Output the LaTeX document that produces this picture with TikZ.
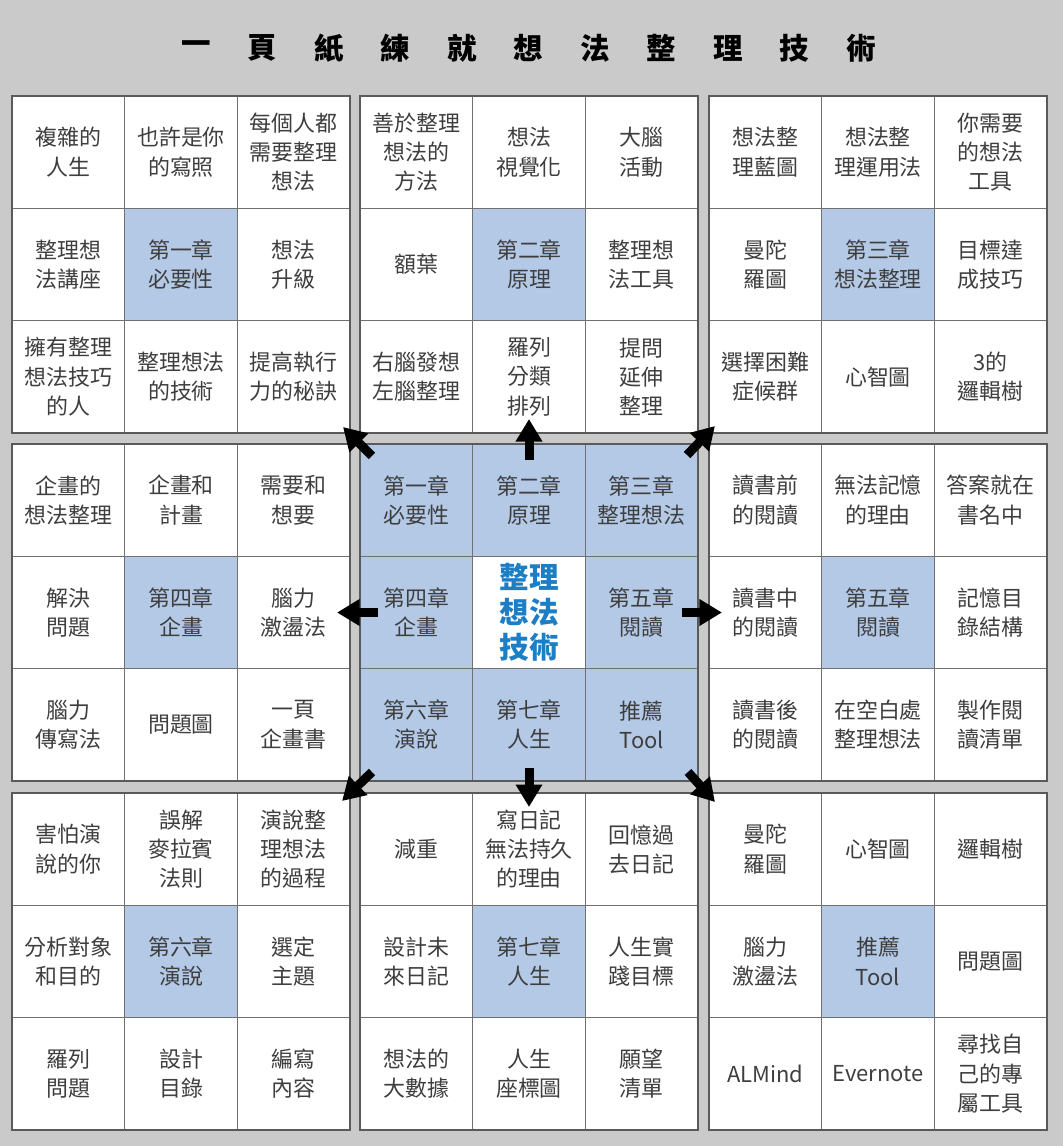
\documentclass[tikz,border=0pt]{standalone}
\usepackage{fontspec}
\usepackage{xcolor}
\usepackage{tikz}
\usetikzlibrary{calc,arrows.meta}
\newfontfamily\cjk{Noto Sans CJK TC}
\definecolor{pgrey}{RGB}{201,202,201}
\definecolor{cblue}{RGB}{180,201,230}
\definecolor{tblue}{RGB}{28,126,196}
\definecolor{tgrey}{RGB}{62,62,62}
\definecolor{lgrey}{RGB}{112,112,112}
\tikzset{
    idea/.style={
        rectangle,
        draw=lgrey, line width=0.6pt,
        fill=white,
        minimum width=2.817cm,
        minimum height=2.808cm,
        inner sep=0pt, outer sep=0pt,
        align=center,
        text=tgrey,
        font={\cjk\fontsize{15.6pt}{20.8pt}\selectfont}
    },
    chapter/.style={idea, fill=cblue},
    hub/.style={idea, text=tblue, font={\cjk\bfseries\fontsize{21pt}{25pt}\selectfont}},
    titlechar/.style={font={\cjk\bfseries\fontsize{21pt}{25pt}\selectfont}, text=black, inner sep=0pt},
    block/.style={draw=lgrey!80!black, line width=1pt},
    bigarrow/.style={-{Triangle[length=16pt,width=18pt]}, line width=6.4pt, black},
}

\begin{document}
\begin{tikzpicture}[x=0.025cm, y=-0.025cm]
    \fill[pgrey] (0,0) rectangle (1063,1146);
    \useasboundingbox (0,0) rectangle (1063,1146);

    % title
    \foreach \ch [count=\k from 0] in {一,頁,紙,練,就,想,法,整,理,技,術}
        \node[titlechar] (t-\k) at ({196+\k*66.5},48) {\ch};

    % chapter 1
    \foreach \s/\t [count=\i from 0] in {
        idea/{複雜的\\人生}, idea/{也許是你\\的寫照}, idea/{每個人都\\需要整理\\想法},
        idea/{整理想\\法講座}, chapter/{第一章\\必要性}, idea/{想法\\升級},
        idea/{擁有整理\\想法技巧\\的人}, idea/{整理想法\\的技術}, idea/{提高執行\\力的秘訣}}
        \node[\s] (tl-\i) at ({12+56.33+mod(\i,3)*112.67},{96+56.17+div(\i,3)*112.33}) {\t};
    \draw[block] (tl-0.north west) rectangle (tl-8.south east);

    % chapter 2
    \foreach \s/\t [count=\i from 0] in {
        idea/{善於整理\\想法的\\方法}, idea/{想法\\視覺化}, idea/{大腦\\活動},
        idea/{額葉}, chapter/{第二章\\原理}, idea/{整理想\\法工具},
        idea/{右腦發想\\左腦整理}, idea/{羅列\\分類\\排列}, idea/{提問\\延伸\\整理}}
        \node[\s] (tc-\i) at ({360+56.33+mod(\i,3)*112.67},{96+56.17+div(\i,3)*112.33}) {\t};
    \draw[block] (tc-0.north west) rectangle (tc-8.south east);

    % chapter 3
    \foreach \s/\t [count=\i from 0] in {
        idea/{想法整\\理藍圖}, idea/{想法整\\理運用法}, idea/{你需要\\的想法\\工具},
        idea/{曼陀\\羅圖}, chapter/{第三章\\想法整理}, idea/{目標達\\成技巧},
        idea/{選擇困難\\症候群}, idea/{心智圖}, idea/{3的\\邏輯樹}}
        \node[\s] (tr-\i) at ({709+56.33+mod(\i,3)*112.67},{96+56.17+div(\i,3)*112.33}) {\t};
    \draw[block] (tr-0.north west) rectangle (tr-8.south east);

    % chapter 4
    \foreach \s/\t [count=\i from 0] in {
        idea/{企畫的\\想法整理}, idea/{企畫和\\計畫}, idea/{需要和\\想要},
        idea/{解決\\問題}, chapter/{第四章\\企畫}, idea/{腦力\\激盪法},
        idea/{腦力\\傳寫法}, idea/{問題圖}, idea/{一頁\\企畫書}}
        \node[\s] (ml-\i) at ({12+56.33+mod(\i,3)*112.67},{444+56.17+div(\i,3)*112.33}) {\t};
    \draw[block] (ml-0.north west) rectangle (ml-8.south east);

    % centre
    \foreach \s/\t [count=\i from 0] in {
        chapter/{第一章\\必要性}, chapter/{第二章\\原理}, chapter/{第三章\\整理想法},
        chapter/{第四章\\企畫}, hub/{整理\\想法\\技術}, chapter/{第五章\\閱讀},
        chapter/{第六章\\演說}, chapter/{第七章\\人生}, chapter/{推薦\\Tool}}
        \node[\s] (c-\i) at ({360+56.33+mod(\i,3)*112.67},{444+56.17+div(\i,3)*112.33}) {\t};
    \draw[block] (c-0.north west) rectangle (c-8.south east);

    % chapter 5
    \foreach \s/\t [count=\i from 0] in {
        idea/{讀書前\\的閱讀}, idea/{無法記憶\\的理由}, idea/{答案就在\\書名中},
        idea/{讀書中\\的閱讀}, chapter/{第五章\\閱讀}, idea/{記憶目\\錄結構},
        idea/{讀書後\\的閱讀}, idea/{在空白處\\整理想法}, idea/{製作閱\\讀清單}}
        \node[\s] (mr-\i) at ({709+56.33+mod(\i,3)*112.67},{444+56.17+div(\i,3)*112.33}) {\t};
    \draw[block] (mr-0.north west) rectangle (mr-8.south east);

    % chapter 6
    \foreach \s/\t [count=\i from 0] in {
        idea/{害怕演\\說的你}, idea/{誤解\\麥拉賓\\法則}, idea/{演說整\\理想法\\的過程},
        idea/{分析對象\\和目的}, chapter/{第六章\\演說}, idea/{選定\\主題},
        idea/{羅列\\問題}, idea/{設計\\目錄}, idea/{編寫\\內容}}
        \node[\s] (bl-\i) at ({12+56.33+mod(\i,3)*112.67},{793+56.17+div(\i,3)*112.33}) {\t};
    \draw[block] (bl-0.north west) rectangle (bl-8.south east);

    % chapter 7
    \foreach \s/\t [count=\i from 0] in {
        idea/{減重}, idea/{寫日記\\無法持久\\的理由}, idea/{回憶過\\去日記},
        idea/{設計未\\來日記}, chapter/{第七章\\人生}, idea/{人生實\\踐目標},
        idea/{想法的\\大數據}, idea/{人生\\座標圖}, idea/{願望\\清單}}
        \node[\s] (bc-\i) at ({360+56.33+mod(\i,3)*112.67},{793+56.17+div(\i,3)*112.33}) {\t};
    \draw[block] (bc-0.north west) rectangle (bc-8.south east);

    % tools
    \foreach \s/\t [count=\i from 0] in {
        idea/{曼陀\\羅圖}, idea/{心智圖}, idea/{邏輯樹},
        idea/{腦力\\激盪法}, chapter/{推薦\\Tool}, idea/{問題圖},
        idea/{ALMind}, idea/{Evernote}, idea/{尋找自\\己的專\\屬工具}}
        \node[\s] (br-\i) at ({709+56.33+mod(\i,3)*112.67},{793+56.17+div(\i,3)*112.33}) {\t};
    \draw[block] (br-0.north west) rectangle (br-8.south east);

    % arrows out of the centre
    \draw[bigarrow] ($(c-0.north west)+(12,12)$) -- ($(tl-8.south east)+(-7,-6)$);
    \draw[bigarrow] ($(c-1.north)+(0,16)$) -- ($(tc-7.south)+(0,-14)$);
    \draw[bigarrow] ($(c-2.north east)+(-11,11)$) -- ($(tr-6.south west)+(6,-7)$);
    \draw[bigarrow] ($(c-3.west)+(18,0)$) -- ($(ml-5.east)+(-13,0)$);
    \draw[bigarrow] ($(c-5.east)+(-16,0)$) -- ($(mr-3.west)+(13,0)$);
    \draw[bigarrow] ($(c-6.south west)+(12,-9)$) -- ($(bl-2.north east)+(-8,8)$);
    \draw[bigarrow] ($(c-7.south)+(0,-13)$) -- ($(bc-1.north)+(0,14)$);
    \draw[bigarrow] ($(c-8.south east)+(-10,-9)$) -- ($(br-0.north west)+(6,9)$);
\end{tikzpicture}
\end{document}
